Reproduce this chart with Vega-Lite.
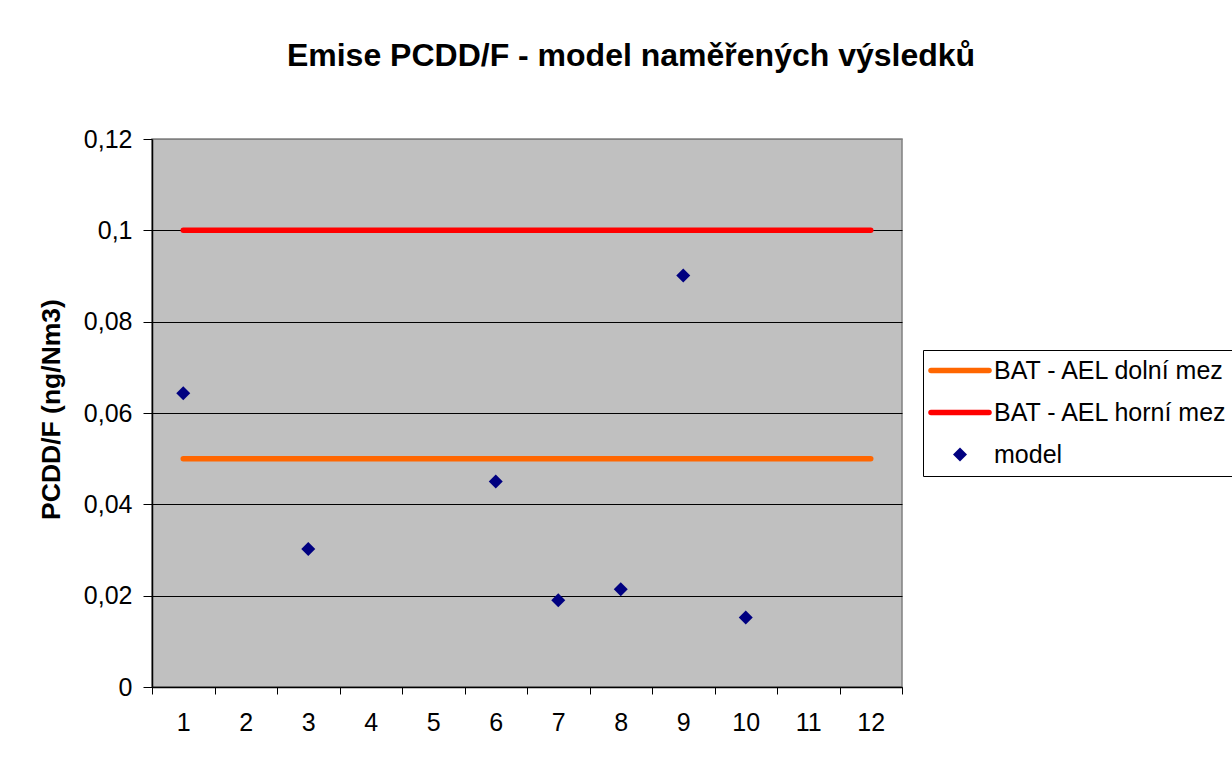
{
  "$schema": "https://vega.github.io/schema/vega-lite/v6.json",
  "width": 750,
  "height": 548,
  "autosize": {"type": "none"},
  "padding": {"left": 152, "top": 139, "right": 330, "bottom": 75},
  "background": "white",
  "config": {
    "font": "Liberation Sans",
    "view": {"fill": "#C0C0C0", "stroke": "#808080", "strokeWidth": 1.5}
  },
  "title": {
    "text": "Emise PCDD/F - model naměřených výsledků",
    "fontSize": 32,
    "fontWeight": "bold",
    "color": "black",
    "font": "Liberation Sans",
    "anchor": "middle",
    "frame": "group",
    "dx": 104,
    "offset": 29,
    "baseline": "alphabetic"
  },
  "data": {
    "values": [
      {"series": "BAT - AEL dolní mez", "x": 1, "y": 0.05},
      {"series": "BAT - AEL dolní mez", "x": 2, "y": 0.05},
      {"series": "BAT - AEL dolní mez", "x": 3, "y": 0.05},
      {"series": "BAT - AEL dolní mez", "x": 4, "y": 0.05},
      {"series": "BAT - AEL dolní mez", "x": 5, "y": 0.05},
      {"series": "BAT - AEL dolní mez", "x": 6, "y": 0.05},
      {"series": "BAT - AEL dolní mez", "x": 7, "y": 0.05},
      {"series": "BAT - AEL dolní mez", "x": 8, "y": 0.05},
      {"series": "BAT - AEL dolní mez", "x": 9, "y": 0.05},
      {"series": "BAT - AEL dolní mez", "x": 10, "y": 0.05},
      {"series": "BAT - AEL dolní mez", "x": 11, "y": 0.05},
      {"series": "BAT - AEL dolní mez", "x": 12, "y": 0.05},
      {"series": "BAT - AEL horní mez", "x": 1, "y": 0.1},
      {"series": "BAT - AEL horní mez", "x": 2, "y": 0.1},
      {"series": "BAT - AEL horní mez", "x": 3, "y": 0.1},
      {"series": "BAT - AEL horní mez", "x": 4, "y": 0.1},
      {"series": "BAT - AEL horní mez", "x": 5, "y": 0.1},
      {"series": "BAT - AEL horní mez", "x": 6, "y": 0.1},
      {"series": "BAT - AEL horní mez", "x": 7, "y": 0.1},
      {"series": "BAT - AEL horní mez", "x": 8, "y": 0.1},
      {"series": "BAT - AEL horní mez", "x": 9, "y": 0.1},
      {"series": "BAT - AEL horní mez", "x": 10, "y": 0.1},
      {"series": "BAT - AEL horní mez", "x": 11, "y": 0.1},
      {"series": "BAT - AEL horní mez", "x": 12, "y": 0.1},
      {"series": "model", "x": 1, "y": 0.0643},
      {"series": "model", "x": 3, "y": 0.0302},
      {"series": "model", "x": 6, "y": 0.045},
      {"series": "model", "x": 7, "y": 0.019},
      {"series": "model", "x": 8, "y": 0.0214},
      {"series": "model", "x": 9, "y": 0.0901},
      {"series": "model", "x": 10, "y": 0.0152}
    ]
  },
  "encoding": {
    "x": {
      "field": "x",
      "type": "ordinal",
      "scale": {"domain": [1, 2, 3, 4, 5, 6, 7, 8, 9, 10, 11, 12], "paddingInner": 0, "paddingOuter": 0},
      "axis": {
        "title": null,
        "labelAngle": 0,
        "tickBand": "extent",
        "domainColor": "black",
        "domainWidth": 1.5,
        "tickColor": "black",
        "tickSize": 7,
        "labelFontSize": 25,
        "labelColor": "black",
        "labelPadding": 16,
        "grid": false
      }
    },
    "y": {
      "field": "y",
      "type": "quantitative",
      "scale": {"domain": [0, 0.12], "nice": false},
      "axis": {
        "values": [0, 0.02, 0.04, 0.06, 0.08, 0.1, 0.12],
        "labelExpr": "replace(format(datum.value, '~g'), '.', ',')",
        "title": "PCDD/F (ng/Nm3)",
        "titleFontSize": 26.5,
        "titleFontWeight": "bold",
        "titleColor": "black",
        "titleX": -101,
        "titleY": 270,
        "titleBaseline": "middle",
        "titleAlign": "center",
        "titleAngle": -90,
        "grid": true,
        "gridColor": {"condition": {"test": "datum.value >= 0.12", "value": "#808080"}, "value": "black"},
        "gridWidth": 1,
        "domainColor": "black",
        "domainWidth": 1.5,
        "tickColor": "black",
        "tickSize": 9,
        "labelPadding": 11,
        "labelFontSize": 25,
        "labelColor": "black"
      }
    },
    "color": {
      "field": "series",
      "type": "nominal",
      "scale": {
        "domain": ["BAT - AEL dolní mez", "BAT - AEL horní mez", "model"],
        "range": ["#FF6600", "#FF0000", "#000080"]
      },
      "legend": {
        "orient": "none",
        "legendX": 771,
        "legendY": 211,
        "title": null,
        "strokeColor": "black",
        "fillColor": "white",
        "padding": 8,
        "symbolType": "stroke",
        "symbolSize": 576,
        "symbolStrokeWidth": 5.5,
        "rowPadding": 16,
        "labelFontSize": 25,
        "labelColor": "black",
        "labelOffset": 38,
        "labelLimit": 400,
        "encode": {
          "symbols": {
            "update": {
              "x": {"value": 29},
              "shape": {"signal": "datum.value === 'model' ? 'diamond' : 'stroke'"},
              "size": {"signal": "datum.value === 'model' ? 196 : 3364"},
              "strokeWidth": {"signal": "datum.value === 'model' ? 0 : 5.5"},
              "fill": {"signal": "datum.value === 'model' ? '#000080' : 'transparent'"},
              "stroke": {"signal": "datum.value === 'model' ? '#000080' : (datum.value === 'BAT - AEL dolní mez' ? '#FF6600' : '#FF0000')"},
              "strokeCap": {"value": "round"},
              "opacity": {"value": 1}
            }
          }
        }
      }
    }
  },
  "layer": [
    {
      "transform": [{"filter": "datum.series !== 'model'"}],
      "mark": {"type": "line", "strokeWidth": 5.5, "strokeCap": "round"},
      "encoding": {"detail": {"field": "series"}}
    },
    {
      "transform": [{"filter": "datum.series === 'model'"}],
      "mark": {"type": "point", "shape": "diamond", "filled": true, "size": 196, "opacity": 1}
    }
  ]
}
